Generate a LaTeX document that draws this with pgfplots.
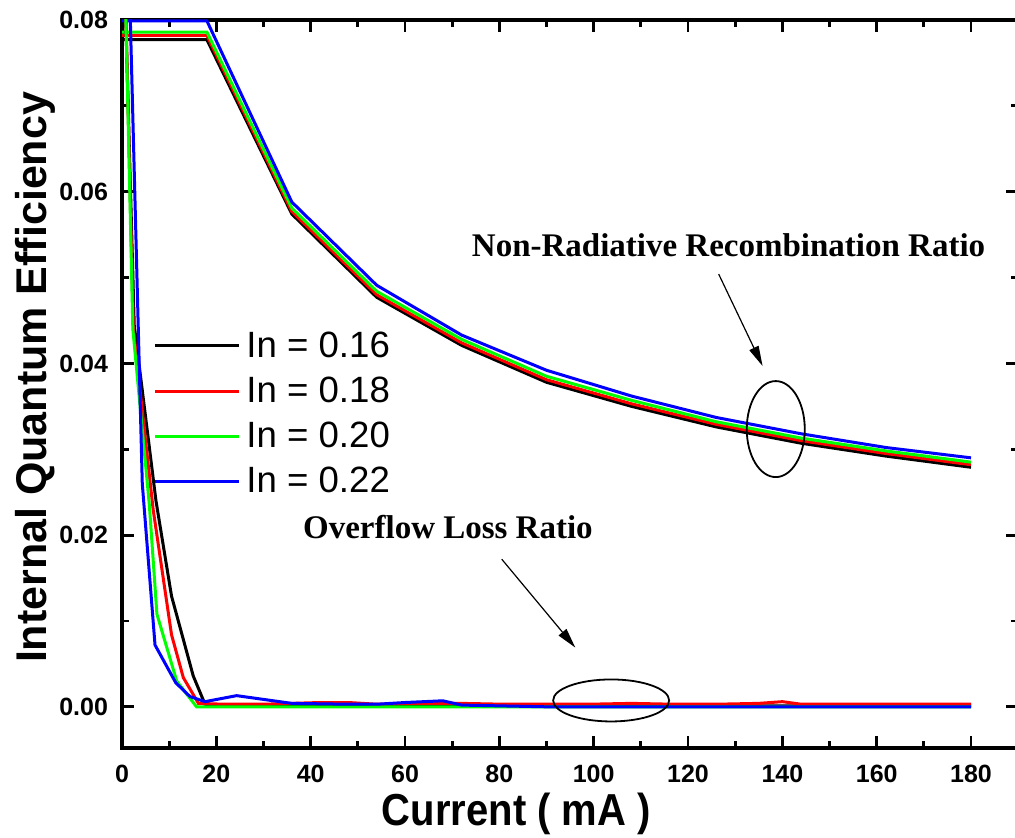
\documentclass[border=0pt]{standalone}
\usepackage{fontspec}
\setmainfont{Liberation Sans}
\newfontfamily\notefont{Liberation Serif}
\usepackage{pgfplots}
\pgfplotsset{compat=1.18}
\usetikzlibrary{arrows.meta}

\definecolor{cblack}{RGB}{0,0,0}
\definecolor{cred}{RGB}{255,0,0}
\definecolor{cgreen}{RGB}{0,255,0}
\definecolor{cblue}{RGB}{0,0,255}

\begin{document}
\begin{tikzpicture}
\path[use as bounding box] (-61pt,-44.5pt) rectangle (446.5pt,374pt);
\begin{axis}[
  scale only axis,
  width=448.1pt, height=364pt,
  xmin=0, xmax=190,
  ymin=-0.0048, ymax=0.08,
  axis line style={line width=1.6pt},
  tick align=inside,
  major tick length=6pt,
  minor tick length=3.5pt,
  every tick/.style={black, line width=1.4pt},
  xtick={0,20,...,180},
  ytick={0,0.02,0.04,0.06,0.08},
  minor x tick num=1,
  minor y tick num=1,
  scaled y ticks=false,
  tick label style={font=\fontsize{12.5}{14}\selectfont\bfseries},
  /pgf/number format/assume math mode=true,
  yticklabel style={/pgf/number format/.cd, fixed, fixed zerofill, precision=2, /tikz/.cd, xshift=-3.5pt},
  xticklabel style={yshift=-5pt},
  xlabel={Current ( mA )},
  ylabel={Internal Quantum Efficiency},
  xlabel style={font=\fontsize{20}{24}\selectfont\bfseries, yscale=1.12, at={(axis description cs:0.44,-0.107)}, anchor=base},
  ylabel style={font=\fontsize{21.5}{25}\selectfont\bfseries, at={(axis description cs:-0.0837,0.509)}, anchor=base},
  legend style={draw=none, fill=none, at={(axis description cs:0.0346,0.578)}, anchor=north west,
    inner sep=0pt, font=\fontsize{18.3}{21}\selectfont, row sep=4.3pt, column sep=1pt},
  legend cell align=left,
  legend image code/.code={\draw[#1] (0pt,0pt) -- (42pt,0pt);},
  every axis plot/.append style={line width=1.5pt},
]

% non-radiative recombination ratio
\addplot[cblack] coordinates {(0,0.0777) (18,0.0777) (36,0.0574) (54,0.0477) (72,0.0421) (90,0.0378) (108,0.0350) (126,0.0326) (144,0.0307) (162,0.0292) (180,0.0279)};
\addlegendentry{In = 0.16}
\addplot[cred] coordinates {(0,0.0782) (18,0.0782) (36,0.0577) (54,0.0480) (72,0.0424) (90,0.0381) (108,0.0353) (126,0.0329) (144,0.0310) (162,0.0295) (180,0.0282)};
\addlegendentry{In = 0.18}
\addplot[cgreen] coordinates {(0,0.0786) (18,0.0786) (36,0.0581) (54,0.0484) (72,0.0428) (90,0.0385) (108,0.0357) (126,0.0332) (144,0.0313) (162,0.0298) (180,0.0285)};
\addlegendentry{In = 0.20}
\addplot[cblue] coordinates {(0,0.0799) (18,0.0799) (36,0.0588) (54,0.0491) (72,0.0433) (90,0.0392) (108,0.0362) (126,0.0337) (144,0.0318) (162,0.0302) (180,0.0290)};
\addlegendentry{In = 0.22}

% overflow loss ratio
\addplot[cblack, forget plot] coordinates {(0.5,0.086) (2.6,0.0444) (7.2,0.0240) (10.5,0.0129) (15.1,0.0036) (17.6,0.0003) (21.6,0.0002) (36,0.0002) (54,0.0002) (72,0.0002) (90,0.0001) (108,0.0001) (126,0.0001) (144,0.0001) (162,0.0001) (180,0.0001)};
\addplot[cred, forget plot] coordinates {(0.5,0.088) (2.4,0.0440) (6.6,0.0230) (10.5,0.0084) (13,0.0034) (16.2,0.0004) (21.6,0.0003) (30,0.0003) (36,0.0004) (42,0.0005) (48,0.0005) (54,0.0003) (63,0.0004) (72,0.0004) (81,0.0003) (90,0.0003) (99,0.0003) (108,0.0004) (117,0.0003) (126,0.0003) (135,0.0004) (140,0.0006) (144,0.0003) (153,0.0003) (162,0.0003) (171,0.0003) (180,0.0003)};
\addplot[cgreen, forget plot] coordinates {(0.5,0.088) (2.3,0.0440) (5.8,0.0235) (7.4,0.0108) (11.6,0.0030) (15.8,0.0000) (36,0.0000) (72,0.0000) (108,0.0000) (144,0.0000) (180,0.0000)};
\addplot[cblue, forget plot] coordinates {(1.3,0.090) (4.3,0.0260) (7.0,0.0072) (11.4,0.0028) (14.4,0.0012) (17.6,0.0006) (24.3,0.0013) (36,0.0004) (48,0.0003) (54,0.0003) (60,0.0005) (68,0.0007) (72,0.0002) (90,0.0000) (108,0.0000) (126,0.0000) (144,0.0000) (162,0.0000) (180,0.0000)};

% annotations
\node[font=\notefont\bfseries\fontsize{16.5}{19}\selectfont] at (axis cs:128.6,0.0538) {Non-Radiative Recombination Ratio};
\draw[line width=0.6pt, -{Triangle[length=10pt,width=5pt]}] (axis cs:126.5,0.0504) -- (axis cs:135.8,0.0397);
\draw[line width=0.9pt] (axis cs:138.6,0.03235) ellipse [x radius=14.5pt, y radius=24pt];

\node[font=\notefont\bfseries\fontsize{16.5}{19}\selectfont] at (axis cs:69.1,0.0209) {Overflow Loss Ratio};
\draw[line width=0.6pt, -{Triangle[length=10pt,width=5pt]}] (axis cs:80.5,0.0172) -- (axis cs:96.1,0.0069);
\draw[line width=0.9pt] (axis cs:103.7,0.00074) ellipse [x radius=29pt, y radius=10.5pt];
\end{axis}
\end{tikzpicture}
\end{document}
